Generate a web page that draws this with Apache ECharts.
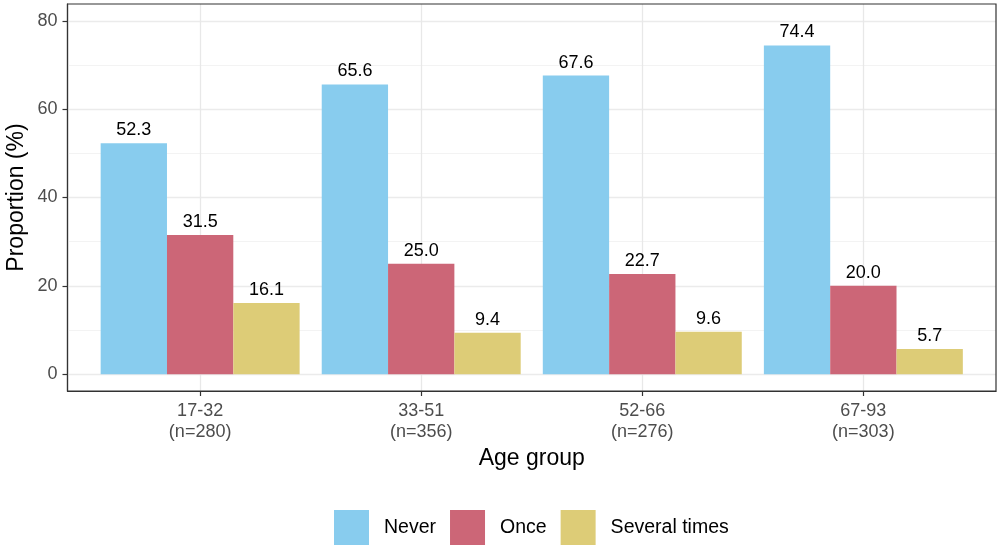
<!DOCTYPE html>
<html>
<head>
<meta charset="utf-8">
<script src="https://cdn.jsdelivr.net/npm/echarts@6/dist/echarts.min.js"></script>
<style>html,body{margin:0;padding:0;background:#fff}#c{width:1000px;height:550px}</style>
</head>
<body>
<div id="c"></div>
<script>
const categories = ['17-32', '33-51', '52-66', '67-93'];
const sampleSizes = ['(n=280)', '(n=356)', '(n=276)', '(n=303)'];
const seriesNames = ['Never', 'Once', 'Several times'];
const neverValues = [52.3, 65.6, 67.6, 74.4];
const onceValues = [31.5, 25.0, 22.7, 20.0];
const severalValues = [16.1, 9.4, 9.6, 5.7];
const yTickValues = [0, 20, 40, 60, 80];
const yMinorValues = [10, 30, 50, 70];
const colors = ['#88CCEE', '#CC6677', '#DDCC77'];

const positions = categories.map((c, i) => i + 1);
const font = 'Liberation Sans, Arial, Helvetica, sans-serif';

function toData(vals) { return vals.map((v, i) => [positions[i], v]); }

const gridLines = [];
yMinorValues.forEach(v => gridLines.push({ yAxis: v, lineStyle: { color: '#f0f0f0', width: 0.8, type: 'solid' } }));
yTickValues.forEach(v => gridLines.push({ yAxis: v, lineStyle: { color: '#ebebeb', width: 1.3, type: 'solid' } }));
positions.forEach(p => gridLines.push({ xAxis: p, lineStyle: { color: '#e8e8e8', width: 1.3, type: 'solid' } }));

const allValues = [neverValues, onceValues, severalValues];
const series = allValues.map((vals, k) => ({
  name: seriesNames[k],
  type: 'bar',
  data: toData(vals),
  z: 3,
  barGap: '0%',
  barCategoryGap: '10%',
  itemStyle: { color: colors[k] },
  label: {
    show: true, position: 'top', distance: 4,
    color: '#000', fontSize: 18, fontFamily: font,
    formatter: p => p.value[1].toFixed(1)
  }
}));
series.unshift({
  name: 'grid',
  type: 'line',
  data: [],
  z: 1,
  silent: true,
  markLine: {
    silent: true, symbol: ['none', 'none'], label: { show: false },
    z: 1, animation: false, data: gridLines
  }
});

const chart = echarts.init(document.getElementById('c'), null, { renderer: 'canvas' });
chart.setOption({
  animation: false,
  backgroundColor: '#ffffff',
  textStyle: { fontFamily: font },
  grid: {
    left: 67.5, right: 4, top: 4, bottom: 159, outerBoundsMode: 'none', containLabel: false,
    show: true, borderColor: '#333333', borderWidth: 1.2, backgroundColor: 'transparent', z: 5
  },
  legend: {
    data: seriesNames, left: 334, top: 510, orient: 'horizontal', padding: 0,
    itemWidth: 35, itemHeight: 35, itemGap: 14, icon: 'rect',
    textStyle: { fontSize: 19.5, color: '#000', fontFamily: font, padding: [0, 0, 0, 10] }
  },
  xAxis: {
    type: 'value', min: 0.4, max: 4.6,
    name: 'Age group', nameLocation: 'middle', nameGap: 56, nameMoveOverlap: false,
    nameTextStyle: { fontSize: 23, color: '#000', fontFamily: font },
    axisLine: { show: true, onZero: false, lineStyle: { color: '#333333', width: 1.2 } },
    splitLine: { show: false },
    axisTick: { show: true, length: 5, customValues: positions, lineStyle: { color: '#333333', width: 1.2 } },
    axisLabel: {
      show: true, customValues: positions, margin: 10, fontSize: 18, lineHeight: 21,
      color: '#4d4d4d', fontFamily: font,
      formatter: v => { const i = Math.round(v) - 1; return categories[i] + '\n' + sampleSizes[i]; }
    }
  },
  yAxis: {
    type: 'value', min: -3.8, max: 83.8,
    name: 'Proportion (%)', nameLocation: 'middle', nameGap: 39, nameRotate: 90, nameMoveOverlap: false,
    nameTextStyle: { fontSize: 23, color: '#000', fontFamily: font },
    axisLine: { show: true, onZero: false, lineStyle: { color: '#333333', width: 1.2 } },
    splitLine: { show: false },
    axisTick: { show: true, length: 5, customValues: yTickValues, lineStyle: { color: '#333333', width: 1.2 } },
    axisLabel: { show: true, customValues: yTickValues, margin: 10, fontSize: 18, color: '#4d4d4d', fontFamily: font }
  },
  series: series
});
</script>
</body>
</html>
